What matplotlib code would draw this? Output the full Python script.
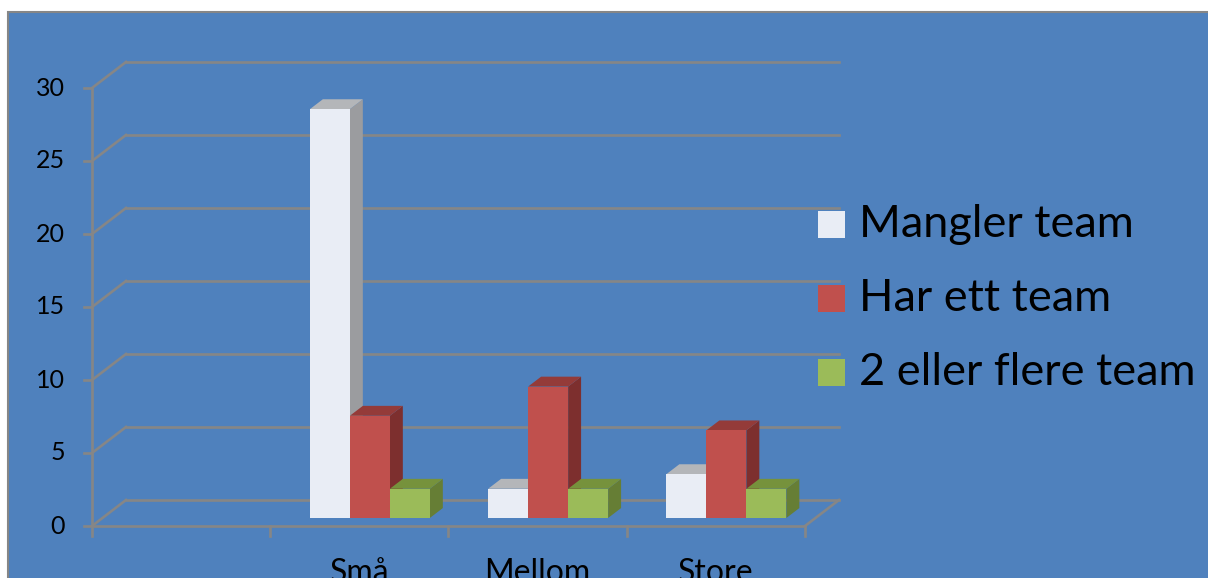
import matplotlib
matplotlib.use("Agg")
import matplotlib.pyplot as plt
from matplotlib.patches import Polygon, Rectangle

plt.rcParams["font.family"] = ["Lato", "DejaVu Sans"]

# data
categories = ["", "Små", "Mellom", "Store"]
series_names = ["Mangler team", "Har ett team", "2 eller flere team"]
mangler_team = [0, 28, 2, 3]
har_ett_team = [0, 7, 9, 6]
flere_team = [0, 2, 2, 2]
yticks = [0, 5, 10, 15, 20, 25, 30]

front_col = ["#E9EDF5", "#C0504D", "#9BBB59"]
top_col = ["#B4B6B9", "#943B39", "#76923C"]
side_col = ["#9B9C9F", "#7D2F2E", "#667E35"]
grid_col = "#868686"
bg_col = "#4F81BD"

W, H = 1208, 578
fig = plt.figure(figsize=(W / 100, H / 100), dpi=100)
fig.patch.set_facecolor("white")

# blue chart area (runs off the right and bottom edge)
fig.patches.append(Rectangle((8 / W, -0.1), 1.2, (H - 12) / H + 0.1,
                             transform=fig.transFigure, facecolor=bg_col,
                             edgecolor=grid_col, linewidth=1.5, zorder=-5))

# front plane of the plot
ax = fig.add_axes([92 / W, 52 / H, 713 / W, 438 / H])
ax.set_xlim(0, len(categories))
ax.set_ylim(0, 30)
ax.axis("off")

pxx = 713 / len(categories)   # px per category
pxy = 438 / 30                # px per unit
DX, DY = 34 / pxx, 26 / pxy   # depth of the "3D" box

lw = 1.9
# back wall gridlines + left side diagonals
for v in yticks:
    ax.plot([DX, len(categories) + DX], [v + DY, v + DY], color=grid_col, lw=lw, clip_on=False, zorder=1)
    ax.plot([0, DX], [v, v + DY], color=grid_col, lw=lw, clip_on=False, zorder=1)
    ax.plot([-8 / pxx, 0], [v, v], color=grid_col, lw=lw, clip_on=False, zorder=1)
    ax.text(-27 / pxx, v, str(v), ha="right", va="center", fontsize=18, color="black")

# floor front edge, right diagonal, y axis
ax.plot([0, len(categories)], [0, 0], color=grid_col, lw=lw, clip_on=False, zorder=1)
ax.plot([len(categories), len(categories) + DX], [0, DY], color=grid_col, lw=lw, clip_on=False, zorder=1)
ax.plot([0, 0], [0, 30], color=grid_col, lw=lw, clip_on=False, zorder=1)
for i in range(len(categories) + 1):
    ax.plot([i, i], [0, -10 / pxy], color=grid_col, lw=lw, clip_on=False, zorder=1)

for i, name in enumerate(categories):
    ax.text(i + 0.5, -56 / pxy, name, ha="center", va="baseline", fontsize=23, color="black")

# bars
series = [mangler_team, har_ett_team, flere_team]
bw = 40 / pxx
ox, oy = DX * 0.31, DY * 0.31     # front face of bars sits a bit behind the front plane
bdx, bdy = DX * 0.38, DY * 0.38   # bar thickness
z = 2
for i in range(len(categories)):
    c = i + 0.5
    for j, vals in enumerate(series):
        v = vals[i]
        if v <= 0:
            continue
        x0 = c - 1.5 * bw + j * bw + ox
        x1 = x0 + bw
        side = Polygon([(x1, oy), (x1 + bdx, oy + bdy), (x1 + bdx, v + oy + bdy), (x1, v + oy)],
                       closed=True, facecolor=side_col[j], edgecolor="none", zorder=z, clip_on=False)
        top = Polygon([(x0, v + oy), (x1, v + oy), (x1 + bdx, v + oy + bdy), (x0 + bdx, v + oy + bdy)],
                      closed=True, facecolor=top_col[j], edgecolor="none", zorder=z, clip_on=False)
        frontf = Rectangle((x0, oy), bw, v, facecolor=front_col[j], edgecolor="none",
                           zorder=z + 1, clip_on=False)
        ax.add_patch(side)
        ax.add_patch(top)
        ax.add_patch(frontf)
        z += 2

# legend
for k, name in enumerate(series_names):
    yb = H - 238 - k * 74
    fig.patches.append(Rectangle((818 / W, yb / H), 27 / W, 27 / H, transform=fig.transFigure,
                                 facecolor=front_col[k], edgecolor="none", zorder=50))
    fig.text(859 / W, (yb + 1) / H, name, ha="left", va="baseline", fontsize=32.5, color="black", zorder=51)

fig.savefig("out.png", dpi=100)
